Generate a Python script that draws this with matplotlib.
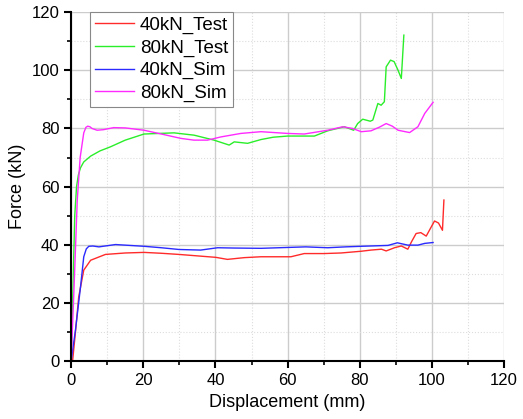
import matplotlib.pyplot as plt
from matplotlib.ticker import MultipleLocator

plt.rcParams['font.family'] = ['Liberation Sans', 'DejaVu Sans']

# data (displacement mm, force kN)
test40_x = [0.4, 1.2, 2.1, 3.5, 5.4, 9.5, 15, 20.2, 25, 29.9, 35, 40.1, 43.3, 48, 52.6, 57, 60.9,
            64.6, 70, 74.8, 80.4, 83.1, 86, 87.3, 89.6, 91.5, 93.3, 94.3, 95.6, 96.9, 98.4, 99.5,
            100.7, 101.8, 102.9, 103.3]
test40_y = [0, 10, 22.1, 31.3, 34.7, 36.7, 37.2, 37.4, 37.1, 36.7, 36.2, 35.7, 35.0, 35.6, 35.9, 35.9, 35.9,
            37.0, 37.0, 37.2, 37.8, 38.2, 38.5, 37.9, 39.0, 39.6, 38.5, 41.0, 43.9, 44.2, 43.0, 45.5,
            48.2, 47.5, 45.0, 55.4]

test80_x = [0, 0.5, 1.0, 1.5, 2.0, 2.6, 3.5, 5.4, 8, 10.9, 15, 20.2, 28.5, 34.1, 39.6, 43.8, 45.2, 48.9, 52.6,
            56, 60, 67.4, 71.1, 75.7, 78.3, 79.4, 80.8, 82.9, 83.6, 85, 85.9, 86.8, 87.3, 88.5,
            89.5, 90.6, 91.5, 92.2]
test80_y = [0, 25, 50, 60, 64, 66.5, 68.5, 70.5, 72.3, 73.7, 76.0, 78.1, 78.5, 77.7, 76.0, 74.3, 75.4, 74.9, 76.2,
            77.0, 77.4, 77.4, 79.2, 80.6, 79.4, 81.7, 83.2, 82.5, 82.9, 88.6, 88.0, 89.2, 101.2, 103.5,
            103.0, 100.0, 97.2, 112.1]

sim40_x = [0, 1.2, 2.6, 3.5, 4.2, 4.9, 6, 7.7, 12.3, 20.2, 25, 29.9, 35.9, 40.6, 45, 52.6, 60, 65, 71.1,
           76, 80.4, 87.8, 90.4, 93.3, 96.1, 98, 100.3]
sim40_y = [0, 10.7, 25.5, 35.9, 38.6, 39.5, 39.6, 39.3, 40.1, 39.5, 39.0, 38.4, 38.2, 39.0, 38.9, 38.8, 39.1, 39.3, 39.0,
           39.3, 39.5, 39.8, 40.7, 39.9, 39.9, 40.5, 40.8]

sim80_x = [0, 0.8, 1.7, 2.5, 3.5, 4.1, 4.6, 5.2, 5.8, 7.2, 9, 11.8, 15, 20.2, 25, 30.4, 34, 37.8, 41.5, 47,
           52.6, 60, 64.6, 71.1, 75.3, 78, 80.4, 83.1, 85.5, 87.3, 89, 90.6, 93.8, 96.1, 98, 100.3]
sim80_y = [0, 25, 55.4, 70, 78.5, 80.4, 80.8, 80.6, 80.0, 79.4, 79.6, 80.3, 80.2, 79.4, 78.1, 76.6, 76.0, 76.0, 77.1, 78.3,
           78.9, 78.3, 78.1, 79.4, 80.6, 80.0, 78.9, 79.2, 80.5, 81.7, 80.8, 79.4, 78.6, 80.6, 85.2, 89.0]

fig = plt.figure(figsize=(5.23, 4.19), dpi=100)
ax = fig.add_axes([0.136, 0.138, 0.828, 0.833])

ax.plot(test40_x, test40_y, color='#ff2a2a', lw=1, label='40kN_Test')
ax.plot(test80_x, test80_y, color='#2aee2a', lw=1, label='80kN_Test')
ax.plot(sim40_x, sim40_y, color='#2a2aff', lw=1, label='40kN_Sim')
ax.plot(sim80_x, sim80_y, color='#ff2aff', lw=1, label='80kN_Sim')

ax.set_xlim(0, 120)
ax.set_ylim(0, 120)
ax.xaxis.set_major_locator(MultipleLocator(20))
ax.xaxis.set_minor_locator(MultipleLocator(10))
ax.yaxis.set_major_locator(MultipleLocator(20))
ax.yaxis.set_minor_locator(MultipleLocator(10))
ax.grid(which='major', color='#cccccc', lw=1, ls='-')
ax.grid(which='minor', color='#dddddd', lw=0.8, ls=':')
ax.set_axisbelow(True)

for s in ['top', 'right']:
    ax.spines[s].set_visible(False)
for s in ['left', 'bottom']:
    ax.spines[s].set_linewidth(1.5)
ax.tick_params(which='major', direction='out', length=5, width=1.5, labelsize=12)
ax.tick_params(which='minor', direction='out', length=3, width=1.2)

ax.set_xlabel('Displacement (mm)', fontsize=13)
ax.set_ylabel('Force (kN)', fontsize=13)

leg = ax.legend(loc='upper left', bbox_to_anchor=(0.044, 1.0), borderaxespad=0, fontsize=13.5,
                fancybox=False, edgecolor='#888888', framealpha=1, handlelength=2.1,
                borderpad=0.25, labelspacing=0.28, handletextpad=0.3)
leg.get_frame().set_linewidth(0.8)

fig.savefig('out.png', dpi=100)
